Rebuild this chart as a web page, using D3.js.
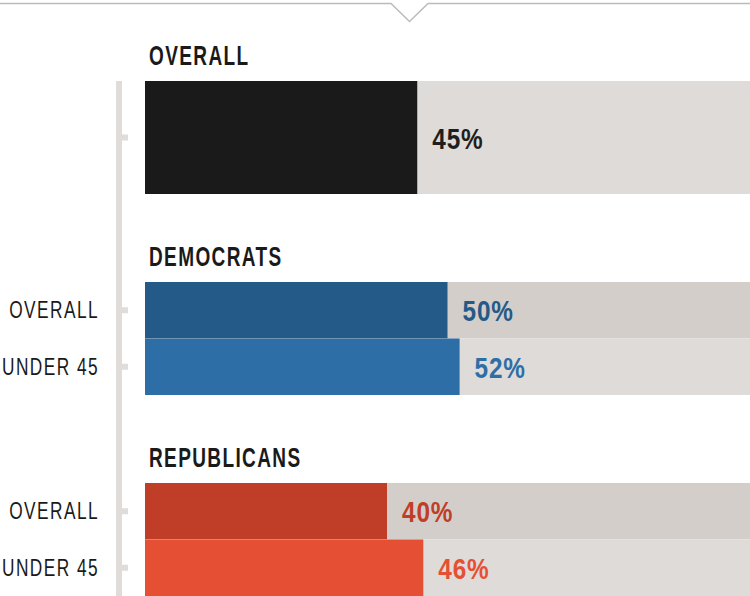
<!DOCTYPE html>
<html>
<head>
<meta charset="utf-8">
<script src="https://cdn.jsdelivr.net/npm/d3@7"></script>
<style>
  html, body { margin: 0; padding: 0; background: #fff; }
  svg { display: block; }
  text { font-family: "Liberation Sans", Arial, sans-serif; }
</style>
</head>
<body>
<svg id="chart"></svg>
<script>
const width = 750;
const height = 596;

// data
const groups = ["OVERALL", "DEMOCRATS", "REPUBLICANS"];
const rowLabels = [[""], ["OVERALL", "UNDER 45"], ["OVERALL", "UNDER 45"]];
const values = [[45], [50, 52], [40, 46]];
const barColors = [["#1a1a1a"], ["#245a87", "#2e6ea6"], ["#c03d27", "#e55035"]];
const labelColors = [["#1e1e1e"], ["#245a87", "#2e6ea6"], ["#c03d27", "#e55035"]];

const svg = d3.select("#chart")
  .attr("width", width)
  .attr("height", height);

const x = d3.scaleLinear().domain([0, 100]).range([145, 750]);

const y = d3.scaleBand()
  .domain(groups)
  .range([81, 596])
  .paddingInner(88 / 201)
  .paddingOuter(0);

// no condensed font installed, so squeeze the text horizontally
function squeezedText(sel, tx, ty, sx, str) {
  return sel.append("text")
    .attr("transform", `translate(${tx},${ty}) scale(${sx},1)`)
    .text(str);
}

// top rule with notch
svg.append("path")
  .attr("d", "M0,3.5 L391,3.5 L409.5,21.5 L428,3.5 L750,3.5")
  .attr("fill", "none")
  .attr("stroke", "#bbb")
  .attr("stroke-width", 1.5);

// axis spine
svg.append("rect")
  .attr("x", 116)
  .attr("y", y(groups[0]))
  .attr("width", 6)
  .attr("height", height - y(groups[0]))
  .attr("fill", "#e0dcd9");

groups.forEach((g, gi) => {
  const top = y(g);
  const inner = d3.scaleBand()
    .domain(d3.range(values[gi].length))
    .range([top, top + y.bandwidth()]);

  // group heading
  squeezedText(svg, 149, top - 16, 0.68, g)
    .attr("font-size", 28)
    .attr("font-weight", "bold")
    .attr("letter-spacing", 2)
    .attr("fill", "#1a1a1a");

  values[gi].forEach((v, ri) => {
    const yy = inner(ri);
    const h = inner.bandwidth();
    const cy = yy + h / 2;
    const multi = values[gi].length > 1;

    // background track
    svg.append("rect")
      .attr("x", x(0))
      .attr("y", yy)
      .attr("width", x(100) - x(0))
      .attr("height", h)
      .attr("fill", multi && ri === 0 ? "#d3ceca" : "#dfdbd8");

    // value bar
    svg.append("rect")
      .attr("x", x(0))
      .attr("y", yy)
      .attr("width", x(v) - x(0))
      .attr("height", h)
      .attr("fill", barColors[gi][ri]);

    // tick
    svg.append("rect")
      .attr("x", 122)
      .attr("y", cy - 3)
      .attr("width", 6)
      .attr("height", 6)
      .attr("fill", "#e0dcd9");

    // row label
    if (rowLabels[gi][ri]) {
      squeezedText(svg, 99, cy + 8, 0.72, rowLabels[gi][ri])
        .attr("font-size", 24)
        .attr("letter-spacing", 2)
        .attr("text-anchor", "end")
        .attr("fill", "#1a1a1a");
    }

    // value label
    squeezedText(svg, x(v) + 15, cy + 11, 0.84, v + "%")
      .attr("font-size", 29)
      .attr("font-weight", "bold")
      .attr("letter-spacing", 1)
      .attr("fill", labelColors[gi][ri]);
  });
});
</script>
</body>
</html>
